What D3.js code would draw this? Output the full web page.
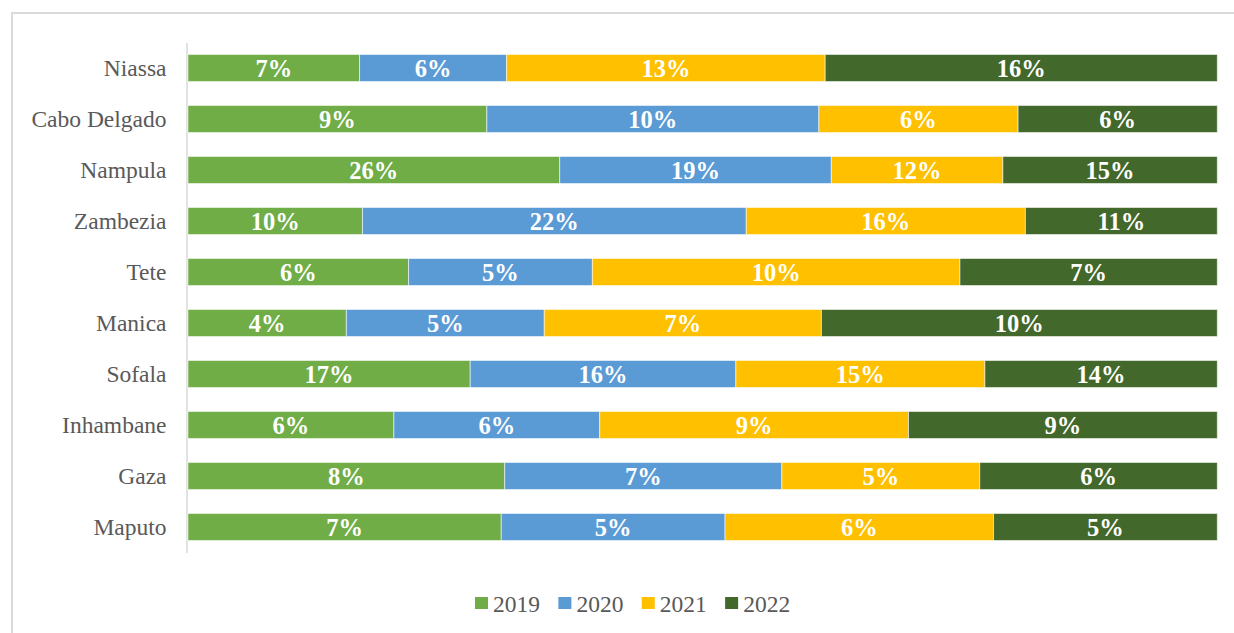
<!DOCTYPE html>
<html>
<head>
<meta charset="utf-8">
<script src="https://cdn.jsdelivr.net/npm/d3@7"></script>
<style>
  html, body { margin: 0; padding: 0; background: #fff; }
  svg { display: block; }
</style>
</head>
<body>
<svg id="chart" width="1234" height="633"></svg>
<script>
// Provinces, top to bottom
const provinces = ["Niassa", "Cabo Delgado", "Nampula", "Zambezia", "Tete",
                   "Manica", "Sofala", "Inhambane", "Gaza", "Maputo"];
const years = ["2019", "2020", "2021", "2022"];

// Share (%) of each year's total that falls in each province
const share2019 = [7, 9, 26, 10, 6, 4, 17, 6, 8, 7];
const share2020 = [6, 10, 19, 22, 5, 5, 16, 6, 7, 5];
const share2021 = [13, 6, 12, 16, 10, 7, 15, 9, 5, 6];
const share2022 = [16, 6, 15, 11, 7, 10, 14, 9, 6, 5];

const colors = ["#70ad47", "#5b9bd5", "#ffc000", "#43682b"];

const rows = provinces.map((p, i) => ({
  province: p,
  "2019": share2019[i],
  "2020": share2020[i],
  "2021": share2021[i],
  "2022": share2022[i]
}));

const svg = d3.select("#chart");
const serif = "'Liberation Serif', 'Times New Roman', serif";

// Outer chart frame
svg.append("rect")
  .attr("x", 12).attr("y", 13)
  .attr("width", 1240).attr("height", 640)
  .attr("fill", "none")
  .attr("stroke", "#d9d9d9")
  .attr("stroke-width", 2);

const plot = { left: 188, right: 1217.3, top: 42.5, bottom: 552.5 };

// Each row is stacked to 100%
const stack = d3.stack().keys(years).offset(d3.stackOffsetExpand);
const series = stack(rows);

const x = d3.scaleLinear().domain([0, 1]).range([plot.left, plot.right]);
const y = d3.scaleBand().domain(provinces)
  .range([plot.top, plot.bottom])
  .paddingInner(0.47).paddingOuter(0.235);
const color = d3.scaleOrdinal().domain(years).range(colors);

// Category axis
const yAxis = d3.axisLeft(y).tickSize(0).tickPadding(20);
const gy = svg.append("g")
  .attr("transform", `translate(${plot.left - 1.5},0)`)
  .call(yAxis);
gy.select(".domain").attr("stroke", "#d9d9d9").attr("stroke-width", 1.5);
gy.selectAll("text")
  .attr("font-family", serif)
  .attr("font-size", 23.5)
  .attr("fill", "#595959")
  .attr("dy", "0.36em");

// Stacked segments
const groups = svg.append("g").selectAll("g")
  .data(series)
  .join("g")
  .attr("fill", d => color(d.key));

groups.selectAll("rect")
  .data(d => d.map(v => ({ key: d.key, v })))
  .join("rect")
  .attr("x", d => x(d.v[0]))
  .attr("y", d => y(d.v.data.province))
  .attr("width", d => x(d.v[1]) - x(d.v[0]))
  .attr("height", y.bandwidth())
  .attr("stroke", "#ffffff")
  .attr("stroke-opacity", 0.55)
  .attr("stroke-width", 1);

// Value labels
groups.selectAll("text")
  .data(d => d.map(v => ({ key: d.key, v })))
  .join("text")
  .attr("x", d => (x(d.v[0]) + x(d.v[1])) / 2)
  .attr("y", d => y(d.v.data.province) + y.bandwidth() / 2)
  .attr("dy", "0.36em")
  .attr("text-anchor", "middle")
  .attr("font-family", serif)
  .attr("font-weight", "bold")
  .attr("font-size", 24.5)
  .attr("fill", "#ffffff")
  .text(d => d.v.data[d.key] + "%");

// Legend
const legendX = d3.scaleBand().domain(years).range([475, 808.5]);
const legend = svg.append("g").selectAll("g")
  .data(years)
  .join("g")
  .attr("transform", d => `translate(${legendX(d)},597)`);
legend.append("rect")
  .attr("width", 13).attr("height", 12)
  .attr("fill", d => color(d));
legend.append("text")
  .attr("x", 18).attr("y", 6)
  .attr("dy", "0.38em")
  .attr("font-family", serif)
  .attr("font-size", 23.5)
  .attr("fill", "#595959")
  .text(d => d);
</script>
</body>
</html>
